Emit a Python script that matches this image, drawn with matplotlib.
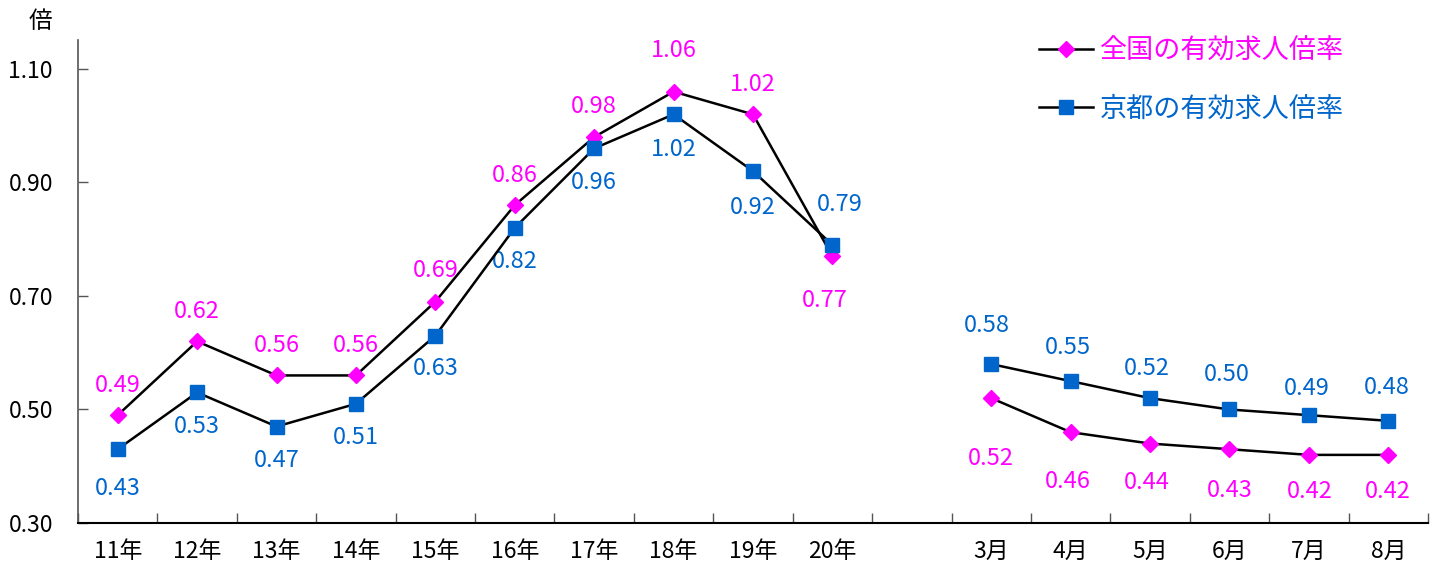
import matplotlib
matplotlib.use("Agg")
import matplotlib.pyplot as plt
import numpy as np

plt.rcParams['font.family'] = ['Noto Sans CJK JP', 'DejaVu Sans']

categories = ['11年', '12年', '13年', '14年', '15年', '16年', '17年', '18年', '19年', '20年',
              '', '3月', '4月', '5月', '6月', '7月', '8月']
national_years = [0.49, 0.62, 0.56, 0.56, 0.69, 0.86, 0.98, 1.06, 1.02, 0.77]
kyoto_years = [0.43, 0.53, 0.47, 0.51, 0.63, 0.82, 0.96, 1.02, 0.92, 0.79]
national_months = [0.52, 0.46, 0.44, 0.43, 0.42, 0.42]
kyoto_months = [0.58, 0.55, 0.52, 0.50, 0.49, 0.48]
yticks = [0.30, 0.50, 0.70, 0.90, 1.10]

# label offsets in pixels (dx, dy), dy positive = above the point
nat_off_years = [(0, 32), (0, 32), (0, 32), (0, 32), (0, 33), (0, 32), (0, 33), (0, 43), (0, 32), (-8, -42)]
kyo_off_years = [(0, -37), (0, -32), (0, -32), (0, -32), (0, -31), (0, -32), (0, -32), (0, -33), (0, -34), (7, 42)]
nat_off_months = [(0, -58), (-3, -47), (-3, -37), (0, -39), (1, -35), (-1, -35)]
kyo_off_months = [(-4, 41), (-3, 36), (-3, 32), (-3, 37), (-2, 29), (-1, 35)]

MAG = '#FF00FF'
BLUE = '#0066CC'

fig = plt.figure(figsize=(14.39, 5.71), dpi=100)
ax = fig.add_axes([78/1439, 48/571, 1350/1439, 483/571])

xy = np.arange(10)
xm = np.arange(11, 17)

ax.plot(xy, national_years, color='black', lw=1.8, marker='D', ms=8.5,
        mfc=MAG, mec=MAG, label='全国の有効求人倍率', zorder=3)
ax.plot(xm, national_months, color='black', lw=1.8, marker='D', ms=8.5,
        mfc=MAG, mec=MAG, zorder=3)
ax.plot(xy, kyoto_years, color='black', lw=1.8, marker='s', ms=10,
        mfc=BLUE, mec=BLUE, label='京都の有効求人倍率', zorder=4)
ax.plot(xm, kyoto_months, color='black', lw=1.8, marker='s', ms=10,
        mfc=BLUE, mec=BLUE, zorder=4)

def annotate(xs, vals, offs, color):
    for x, v, (dx, dy) in zip(xs, vals, offs):
        ax.annotate(f'{v:.2f}', (x, v), xytext=(dx, dy - 2), textcoords='offset pixels',
                    ha='center', va='center', color=color, fontsize=17)

annotate(xy, national_years, nat_off_years, MAG)
annotate(xm, national_months, nat_off_months, MAG)
annotate(xy, kyoto_years, kyo_off_years, BLUE)
annotate(xm, kyoto_months, kyo_off_months, BLUE)

ax.set_xlim(-0.5, 16.5)
ax.set_ylim(0.30, 1.151)
ax.set_yticks(yticks)
ax.set_yticklabels([f'{t:.2f}' for t in yticks], fontsize=16.5)
ax.set_xticks(np.arange(17))
ax.set_xticklabels(categories, fontsize=16.5)
ax.set_xticks(np.arange(-0.5, 16.6, 1), minor=True)
ax.tick_params(axis='x', which='major', length=0, pad=12)
ax.tick_params(axis='x', which='minor', direction='in', length=7, width=1, color='#555555')
ax.tick_params(axis='y', direction='in', length=7, width=1, color='#555555', pad=18)

for s in ['top', 'right']:
    ax.spines[s].set_visible(False)
ax.spines['left'].set_color('#555555')
ax.spines['bottom'].set_color('black')
ax.spines['left'].set_linewidth(1.2)
ax.spines['bottom'].set_linewidth(1.5)

leg = ax.legend(loc='upper right', bbox_to_anchor=(1.0 - 60/1350, 1.055), frameon=False,
                fontsize=19.5, handlelength=2.0, labelspacing=1.15, handletextpad=0.25)
for txt, c in zip(leg.get_texts(), [MAG, BLUE]):
    txt.set_color(c)

fig.text(40/1439, 1 - 21/571, '倍', fontsize=17, ha='center', va='center')

fig.savefig('out.png', dpi=100)
